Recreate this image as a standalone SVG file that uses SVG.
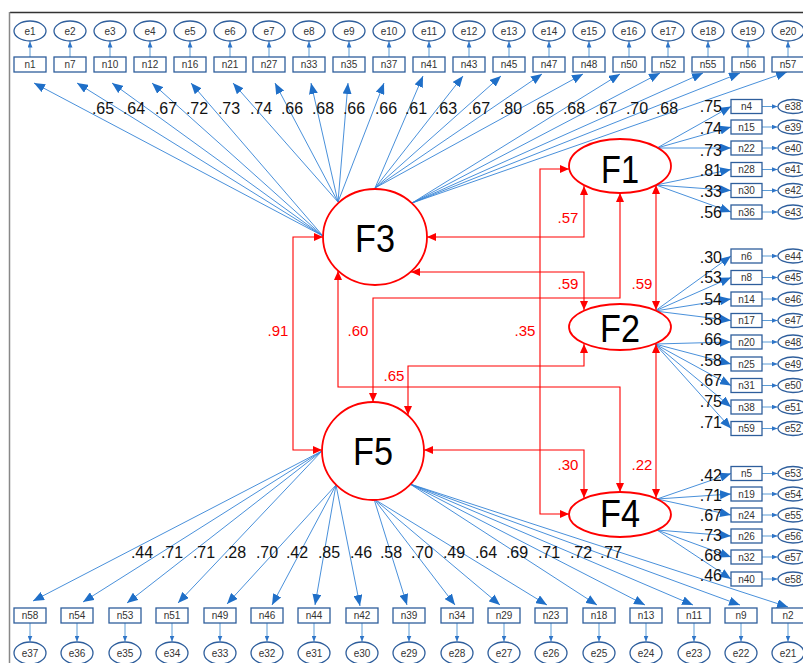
<svg xmlns="http://www.w3.org/2000/svg" width="803" height="663" viewBox="0 0 803 663">
<style>
.box{fill:#fff;stroke:#2E5E9C;stroke-width:1.3}
.err{fill:#fff;stroke:#2E5E9C;stroke-width:1.3}
.lat{fill:#fff;stroke:#FF0000;stroke-width:1.8}
.ld line{stroke:#3483D6;stroke-width:0.9;marker-end:url(#ab)}
.ea line{stroke:#5B9BD5;stroke-width:1;marker-end:url(#as)}
.cv{stroke:#FF0000;stroke-width:1.1;fill:none;marker-start:url(#r);marker-end:url(#r)}
text{font-family:"Liberation Sans",Arial,sans-serif}
.t{font-size:10px;fill:#333;text-anchor:middle}
.num{font-size:16px;fill:#111;text-anchor:middle}
.rnum{font-size:16px;fill:#111;text-anchor:end}
.red{font-size:15px;fill:#FF0000;text-anchor:middle}
.big{font-size:38px;fill:#000;text-anchor:middle}
</style>
<defs>
<marker id="ab" viewBox="0 0 11 9" refX="11" refY="4.5" markerWidth="11" markerHeight="9" markerUnits="userSpaceOnUse" orient="auto"><path d="M0,0L11,4.5L0,9z" fill="#1F6FC8"/></marker>
<marker id="as" viewBox="0 0 6 5" refX="6" refY="2.5" markerWidth="6" markerHeight="5" markerUnits="userSpaceOnUse" orient="auto"><path d="M0,0L6,2.5L0,5z" fill="#2E75C8"/></marker>
<marker id="r" viewBox="0 0 9 8" refX="9" refY="4" markerWidth="9" markerHeight="8" markerUnits="userSpaceOnUse" orient="auto-start-reverse"><path d="M0,0L9,4L0,8z" fill="#FF0000"/></marker>
</defs>
<rect width="803" height="663" fill="#fff"/>
<g id="frame">
<line x1="10" y1="12.5" x2="803" y2="12.5" stroke="#333" stroke-width="1.5"/>
<line x1="9.5" y1="12" x2="9.5" y2="663" stroke="#888" stroke-width="1.5"/>
</g>
<g id="connectors">
<g class="ld">
<line x1="323" y1="236" x2="34" y2="83"/><line x1="323" y1="236" x2="77" y2="83"/><line x1="323" y1="236" x2="112" y2="83"/><line x1="323" y1="236" x2="152" y2="83"/><line x1="323" y1="236" x2="191" y2="83"/>
<line x1="338" y1="202" x2="233" y2="83"/><line x1="338" y1="202" x2="275" y2="83"/><line x1="338" y1="202" x2="311" y2="83"/><line x1="338" y1="202" x2="348" y2="83"/><line x1="338" y1="202" x2="384" y2="83"/>
<line x1="375" y1="188" x2="423" y2="76"/><line x1="375" y1="188" x2="463" y2="76"/><line x1="375" y1="188" x2="501" y2="76"/><line x1="375" y1="188" x2="542" y2="74"/><line x1="375" y1="188" x2="583" y2="74"/>
<line x1="412" y1="203" x2="620" y2="74"/><line x1="412" y1="203" x2="660" y2="73"/><line x1="412" y1="203" x2="703" y2="73"/><line x1="412" y1="203" x2="740" y2="73"/><line x1="412" y1="203" x2="787" y2="72"/>
<line x1="322" y1="451" x2="33" y2="601"/><line x1="322" y1="451" x2="83" y2="602"/><line x1="322" y1="451" x2="127" y2="603"/><line x1="322" y1="451" x2="178" y2="603"/>
<line x1="336" y1="485" x2="227" y2="604"/><line x1="336" y1="485" x2="272" y2="605"/><line x1="336" y1="485" x2="315" y2="605"/><line x1="336" y1="485" x2="360" y2="606"/>
<line x1="374" y1="499" x2="407" y2="605"/><line x1="374" y1="499" x2="455" y2="605"/><line x1="374" y1="499" x2="500" y2="605"/><line x1="374" y1="499" x2="547" y2="605"/>
<line x1="410" y1="484" x2="597" y2="605"/><line x1="410" y1="484" x2="645" y2="605"/><line x1="410" y1="484" x2="693" y2="605"/><line x1="410" y1="484" x2="740" y2="605"/><line x1="410" y1="484" x2="788" y2="607"/>
<line x1="657" y1="148" x2="731" y2="106.5"/><line x1="657" y1="148" x2="731" y2="127"/><line x1="657" y1="148" x2="731" y2="148"/>
<line x1="656" y1="185" x2="731" y2="169.5"/><line x1="656" y1="185" x2="731" y2="190.5"/><line x1="656" y1="185" x2="731" y2="212"/>
<line x1="655" y1="311" x2="731" y2="256"/><line x1="655" y1="311" x2="731" y2="277.5"/><line x1="655" y1="311" x2="731" y2="299"/><line x1="655" y1="311" x2="731" y2="320.5"/>
<line x1="655" y1="344" x2="731" y2="342"/><line x1="655" y1="344" x2="731" y2="364"/><line x1="655" y1="344" x2="731" y2="385.5"/><line x1="655" y1="344" x2="731" y2="407"/><line x1="655" y1="344" x2="731" y2="428.5"/>
<line x1="657" y1="499" x2="731" y2="473.5"/><line x1="657" y1="499" x2="731" y2="494"/><line x1="657" y1="499" x2="731" y2="515"/>
<line x1="657" y1="530" x2="731" y2="536"/><line x1="657" y1="530" x2="731" y2="557"/><line x1="657" y1="530" x2="731" y2="579"/>
</g>
<g class="ea">
<line x1="30" y1="57" x2="30" y2="41.5"/><line x1="70" y1="57" x2="70" y2="41.5"/><line x1="110" y1="57" x2="110" y2="41.5"/><line x1="150" y1="57" x2="150" y2="41.5"/><line x1="190" y1="57" x2="190" y2="41.5"/><line x1="230" y1="57" x2="230" y2="41.5"/><line x1="269" y1="57" x2="269" y2="41.5"/><line x1="309" y1="57" x2="309" y2="41.5"/><line x1="349" y1="57" x2="349" y2="41.5"/><line x1="389" y1="57" x2="389" y2="41.5"/><line x1="429" y1="57" x2="429" y2="41.5"/><line x1="469" y1="57" x2="469" y2="41.5"/><line x1="509" y1="57" x2="509" y2="41.5"/><line x1="549" y1="57" x2="549" y2="41.5"/><line x1="589" y1="57" x2="589" y2="41.5"/><line x1="629" y1="57" x2="629" y2="41.5"/><line x1="668" y1="57" x2="668" y2="41.5"/><line x1="708" y1="57" x2="708" y2="41.5"/><line x1="748" y1="57" x2="748" y2="41.5"/><line x1="788" y1="57" x2="788" y2="41.5"/>
<line x1="30" y1="623" x2="30" y2="641.5"/><line x1="77" y1="623" x2="77" y2="641.5"/><line x1="125" y1="623" x2="125" y2="641.5"/><line x1="172" y1="623" x2="172" y2="641.5"/><line x1="220" y1="623" x2="220" y2="641.5"/><line x1="267" y1="623" x2="267" y2="641.5"/><line x1="314" y1="623" x2="314" y2="641.5"/><line x1="362" y1="623" x2="362" y2="641.5"/><line x1="409" y1="623" x2="409" y2="641.5"/><line x1="457" y1="623" x2="457" y2="641.5"/><line x1="504" y1="623" x2="504" y2="641.5"/><line x1="551" y1="623" x2="551" y2="641.5"/><line x1="599" y1="623" x2="599" y2="641.5"/><line x1="646" y1="623" x2="646" y2="641.5"/><line x1="694" y1="623" x2="694" y2="641.5"/><line x1="741" y1="623" x2="741" y2="641.5"/><line x1="788" y1="623" x2="788" y2="641.5"/>
<line x1="762" y1="106.5" x2="777.5" y2="106.5"/><line x1="762" y1="127" x2="777.5" y2="127"/><line x1="762" y1="148" x2="777.5" y2="148"/><line x1="762" y1="169.5" x2="777.5" y2="169.5"/><line x1="762" y1="190.5" x2="777.5" y2="190.5"/><line x1="762" y1="212" x2="777.5" y2="212"/>
<line x1="762" y1="256" x2="777.5" y2="256"/><line x1="762" y1="277.5" x2="777.5" y2="277.5"/><line x1="762" y1="299" x2="777.5" y2="299"/><line x1="762" y1="320.5" x2="777.5" y2="320.5"/><line x1="762" y1="342" x2="777.5" y2="342"/><line x1="762" y1="364" x2="777.5" y2="364"/><line x1="762" y1="385.5" x2="777.5" y2="385.5"/><line x1="762" y1="407" x2="777.5" y2="407"/><line x1="762" y1="428.5" x2="777.5" y2="428.5"/>
<line x1="762" y1="473.5" x2="777.5" y2="473.5"/><line x1="762" y1="494" x2="777.5" y2="494"/><line x1="762" y1="515" x2="777.5" y2="515"/><line x1="762" y1="536" x2="777.5" y2="536"/><line x1="762" y1="557" x2="777.5" y2="557"/><line x1="762" y1="579" x2="777.5" y2="579"/>
</g>
<path class="cv" d="M323,237H293V450H322"/>
<path class="cv" d="M427,237H584V186"/>
<path class="cv" d="M411,272H584V310"/>
<path class="cv" d="M373,402V298H620V193"/>
<path class="cv" d="M656,185V310"/>
<path class="cv" d="M408,415V366H584V344"/>
<path class="cv" d="M338,271V387H620V492"/>
<path class="cv" d="M424,450H584V498"/>
<path class="cv" d="M656,344V498"/>
<path class="cv" d="M569,169H540V514H569"/>
</g>
<g id="loadings-text">
<text class="num" x="103" y="113.5">.65</text><text class="num" x="134" y="113.5">.64</text><text class="num" x="166" y="113.5">.67</text><text class="num" x="197" y="113.5">.72</text><text class="num" x="229" y="113.5">.73</text><text class="num" x="261" y="113.5">.74</text><text class="num" x="292" y="113.5">.66</text><text class="num" x="323" y="113.5">.68</text><text class="num" x="354" y="113.5">.66</text><text class="num" x="386" y="113.5">.66</text><text class="num" x="416" y="113.5">.61</text><text class="num" x="446" y="113.5">.63</text><text class="num" x="479" y="113.5">.67</text><text class="num" x="511" y="113.5">.80</text><text class="num" x="543" y="113.5">.65</text><text class="num" x="574" y="113.5">.68</text><text class="num" x="606" y="113.5">.67</text><text class="num" x="637" y="113.5">.70</text><text class="num" x="667" y="113.5">.68</text>
<text class="num" x="142" y="558">.44</text><text class="num" x="172" y="558">.71</text><text class="num" x="204" y="558">.71</text><text class="num" x="235" y="558">.28</text><text class="num" x="267" y="558">.70</text><text class="num" x="297" y="558">.42</text><text class="num" x="329" y="558">.85</text><text class="num" x="361" y="558">.46</text><text class="num" x="391" y="558">.58</text><text class="num" x="422" y="558">.70</text><text class="num" x="454" y="558">.49</text><text class="num" x="486" y="558">.64</text><text class="num" x="517" y="558">.69</text><text class="num" x="549" y="558">.71</text><text class="num" x="581" y="558">.72</text><text class="num" x="611" y="558">.77</text>
<text class="rnum" x="722" y="112">.75</text><text class="rnum" x="722" y="133.5">.74</text><text class="rnum" x="722" y="155.5">.73</text><text class="rnum" x="722" y="175.5">.81</text><text class="rnum" x="722" y="197">.33</text><text class="rnum" x="722" y="218">.56</text>
<text class="rnum" x="722" y="262.5">.30</text><text class="rnum" x="722" y="283">.53</text><text class="rnum" x="722" y="304.5">.54</text><text class="rnum" x="722" y="324.5">.58</text><text class="rnum" x="722" y="344.5">.66</text><text class="rnum" x="722" y="365.5">.58</text><text class="rnum" x="722" y="385.5">.67</text><text class="rnum" x="722" y="406.5">.75</text><text class="rnum" x="722" y="427.5">.71</text>
<text class="rnum" x="722" y="480.5">.42</text><text class="rnum" x="722" y="501">.71</text><text class="rnum" x="722" y="520.5">.67</text><text class="rnum" x="722" y="540.5">.73</text><text class="rnum" x="722" y="561">.68</text><text class="rnum" x="722" y="581">.46</text>
<text class="red" x="278" y="336">.91</text><text class="red" x="358" y="336">.60</text><text class="red" x="525" y="336">.35</text><text class="red" x="394" y="381">.65</text><text class="red" x="568" y="223">.57</text><text class="red" x="568" y="289">.59</text><text class="red" x="642" y="289">.59</text><text class="red" x="568" y="470">.30</text><text class="red" x="642" y="470">.22</text>
</g>
<g id="F3"><ellipse class="lat" cx="375" cy="237" rx="52" ry="48"/><text class="big" x="375" y="252" textLength="40" lengthAdjust="spacingAndGlyphs">F3</text></g>
<g id="F5"><ellipse class="lat" cx="373" cy="451" rx="51" ry="49"/><text class="big" x="373" y="465" textLength="40" lengthAdjust="spacingAndGlyphs">F5</text></g>
<g id="F1"><ellipse class="lat" cx="620" cy="166" rx="51" ry="27"/><text class="big" x="620" y="183" textLength="38" lengthAdjust="spacingAndGlyphs">F1</text></g>
<g id="F2"><ellipse class="lat" cx="620" cy="327" rx="51" ry="23"/><text class="big" x="620" y="342" textLength="40" lengthAdjust="spacingAndGlyphs">F2</text></g>
<g id="F4"><ellipse class="lat" cx="620" cy="514.5" rx="51" ry="22.5"/><text class="big" x="620" y="527" textLength="40" lengthAdjust="spacingAndGlyphs">F4</text></g>
<g id="top-items">
<g id="n1"><rect class="box" x="14" y="57" width="32" height="15"/><text class="t" x="30" y="68">n1</text></g>
<g id="n7"><rect class="box" x="54" y="57" width="32" height="15"/><text class="t" x="70" y="68">n7</text></g>
<g id="n10"><rect class="box" x="94" y="57" width="32" height="15"/><text class="t" x="110" y="68">n10</text></g>
<g id="n12"><rect class="box" x="134" y="57" width="32" height="15"/><text class="t" x="150" y="68">n12</text></g>
<g id="n16"><rect class="box" x="174" y="57" width="32" height="15"/><text class="t" x="190" y="68">n16</text></g>
<g id="n21"><rect class="box" x="214" y="57" width="32" height="15"/><text class="t" x="230" y="68">n21</text></g>
<g id="n27"><rect class="box" x="253" y="57" width="32" height="15"/><text class="t" x="269" y="68">n27</text></g>
<g id="n33"><rect class="box" x="293" y="57" width="32" height="15"/><text class="t" x="309" y="68">n33</text></g>
<g id="n35"><rect class="box" x="333" y="57" width="32" height="15"/><text class="t" x="349" y="68">n35</text></g>
<g id="n37"><rect class="box" x="373" y="57" width="32" height="15"/><text class="t" x="389" y="68">n37</text></g>
<g id="n41"><rect class="box" x="413" y="57" width="32" height="15"/><text class="t" x="429" y="68">n41</text></g>
<g id="n43"><rect class="box" x="453" y="57" width="32" height="15"/><text class="t" x="469" y="68">n43</text></g>
<g id="n45"><rect class="box" x="493" y="57" width="32" height="15"/><text class="t" x="509" y="68">n45</text></g>
<g id="n47"><rect class="box" x="533" y="57" width="32" height="15"/><text class="t" x="549" y="68">n47</text></g>
<g id="n48"><rect class="box" x="573" y="57" width="32" height="15"/><text class="t" x="589" y="68">n48</text></g>
<g id="n50"><rect class="box" x="613" y="57" width="32" height="15"/><text class="t" x="629" y="68">n50</text></g>
<g id="n52"><rect class="box" x="652" y="57" width="32" height="15"/><text class="t" x="668" y="68">n52</text></g>
<g id="n55"><rect class="box" x="692" y="57" width="32" height="15"/><text class="t" x="708" y="68">n55</text></g>
<g id="n56"><rect class="box" x="732" y="57" width="32" height="15"/><text class="t" x="748" y="68">n56</text></g>
<g id="n57"><rect class="box" x="772" y="57" width="32" height="15"/><text class="t" x="788" y="68">n57</text></g>
<g id="e1"><ellipse class="err" cx="30" cy="31" rx="16" ry="10"/><text class="t" x="30" y="34.5">e1</text></g>
<g id="e2"><ellipse class="err" cx="70" cy="31" rx="16" ry="10"/><text class="t" x="70" y="34.5">e2</text></g>
<g id="e3"><ellipse class="err" cx="110" cy="31" rx="16" ry="10"/><text class="t" x="110" y="34.5">e3</text></g>
<g id="e4"><ellipse class="err" cx="150" cy="31" rx="16" ry="10"/><text class="t" x="150" y="34.5">e4</text></g>
<g id="e5"><ellipse class="err" cx="190" cy="31" rx="16" ry="10"/><text class="t" x="190" y="34.5">e5</text></g>
<g id="e6"><ellipse class="err" cx="230" cy="31" rx="16" ry="10"/><text class="t" x="230" y="34.5">e6</text></g>
<g id="e7"><ellipse class="err" cx="269" cy="31" rx="16" ry="10"/><text class="t" x="269" y="34.5">e7</text></g>
<g id="e8"><ellipse class="err" cx="309" cy="31" rx="16" ry="10"/><text class="t" x="309" y="34.5">e8</text></g>
<g id="e9"><ellipse class="err" cx="349" cy="31" rx="16" ry="10"/><text class="t" x="349" y="34.5">e9</text></g>
<g id="e10"><ellipse class="err" cx="389" cy="31" rx="16" ry="10"/><text class="t" x="389" y="34.5">e10</text></g>
<g id="e11"><ellipse class="err" cx="429" cy="31" rx="16" ry="10"/><text class="t" x="429" y="34.5">e11</text></g>
<g id="e12"><ellipse class="err" cx="469" cy="31" rx="16" ry="10"/><text class="t" x="469" y="34.5">e12</text></g>
<g id="e13"><ellipse class="err" cx="509" cy="31" rx="16" ry="10"/><text class="t" x="509" y="34.5">e13</text></g>
<g id="e14"><ellipse class="err" cx="549" cy="31" rx="16" ry="10"/><text class="t" x="549" y="34.5">e14</text></g>
<g id="e15"><ellipse class="err" cx="589" cy="31" rx="16" ry="10"/><text class="t" x="589" y="34.5">e15</text></g>
<g id="e16"><ellipse class="err" cx="629" cy="31" rx="16" ry="10"/><text class="t" x="629" y="34.5">e16</text></g>
<g id="e17"><ellipse class="err" cx="668" cy="31" rx="16" ry="10"/><text class="t" x="668" y="34.5">e17</text></g>
<g id="e18"><ellipse class="err" cx="708" cy="31" rx="16" ry="10"/><text class="t" x="708" y="34.5">e18</text></g>
<g id="e19"><ellipse class="err" cx="748" cy="31" rx="16" ry="10"/><text class="t" x="748" y="34.5">e19</text></g>
<g id="e20"><ellipse class="err" cx="788" cy="31" rx="16" ry="10"/><text class="t" x="788" y="34.5">e20</text></g>
</g>
<g id="bottom-items">
<g id="n58"><rect class="box" x="14" y="608" width="32" height="15"/><text class="t" x="30" y="619">n58</text></g>
<g id="n54"><rect class="box" x="61" y="608" width="32" height="15"/><text class="t" x="77" y="619">n54</text></g>
<g id="n53"><rect class="box" x="109" y="608" width="32" height="15"/><text class="t" x="125" y="619">n53</text></g>
<g id="n51"><rect class="box" x="156" y="608" width="32" height="15"/><text class="t" x="172" y="619">n51</text></g>
<g id="n49"><rect class="box" x="204" y="608" width="32" height="15"/><text class="t" x="220" y="619">n49</text></g>
<g id="n46"><rect class="box" x="251" y="608" width="32" height="15"/><text class="t" x="267" y="619">n46</text></g>
<g id="n44"><rect class="box" x="298" y="608" width="32" height="15"/><text class="t" x="314" y="619">n44</text></g>
<g id="n42"><rect class="box" x="346" y="608" width="32" height="15"/><text class="t" x="362" y="619">n42</text></g>
<g id="n39"><rect class="box" x="393" y="608" width="32" height="15"/><text class="t" x="409" y="619">n39</text></g>
<g id="n34"><rect class="box" x="441" y="608" width="32" height="15"/><text class="t" x="457" y="619">n34</text></g>
<g id="n29"><rect class="box" x="488" y="608" width="32" height="15"/><text class="t" x="504" y="619">n29</text></g>
<g id="n23"><rect class="box" x="535" y="608" width="32" height="15"/><text class="t" x="551" y="619">n23</text></g>
<g id="n18"><rect class="box" x="583" y="608" width="32" height="15"/><text class="t" x="599" y="619">n18</text></g>
<g id="n13"><rect class="box" x="630" y="608" width="32" height="15"/><text class="t" x="646" y="619">n13</text></g>
<g id="n11"><rect class="box" x="678" y="608" width="32" height="15"/><text class="t" x="694" y="619">n11</text></g>
<g id="n9"><rect class="box" x="725" y="608" width="32" height="15"/><text class="t" x="741" y="619">n9</text></g>
<g id="n2"><rect class="box" x="772" y="608" width="32" height="15"/><text class="t" x="788" y="619">n2</text></g>
<g id="e37"><ellipse class="err" cx="30" cy="653" rx="16" ry="11"/><text class="t" x="30" y="656.5">e37</text></g>
<g id="e36"><ellipse class="err" cx="77" cy="653" rx="16" ry="11"/><text class="t" x="77" y="656.5">e36</text></g>
<g id="e35"><ellipse class="err" cx="125" cy="653" rx="16" ry="11"/><text class="t" x="125" y="656.5">e35</text></g>
<g id="e34"><ellipse class="err" cx="172" cy="653" rx="16" ry="11"/><text class="t" x="172" y="656.5">e34</text></g>
<g id="e33"><ellipse class="err" cx="220" cy="653" rx="16" ry="11"/><text class="t" x="220" y="656.5">e33</text></g>
<g id="e32"><ellipse class="err" cx="267" cy="653" rx="16" ry="11"/><text class="t" x="267" y="656.5">e32</text></g>
<g id="e31"><ellipse class="err" cx="314" cy="653" rx="16" ry="11"/><text class="t" x="314" y="656.5">e31</text></g>
<g id="e30"><ellipse class="err" cx="362" cy="653" rx="16" ry="11"/><text class="t" x="362" y="656.5">e30</text></g>
<g id="e29"><ellipse class="err" cx="409" cy="653" rx="16" ry="11"/><text class="t" x="409" y="656.5">e29</text></g>
<g id="e28"><ellipse class="err" cx="457" cy="653" rx="16" ry="11"/><text class="t" x="457" y="656.5">e28</text></g>
<g id="e27"><ellipse class="err" cx="504" cy="653" rx="16" ry="11"/><text class="t" x="504" y="656.5">e27</text></g>
<g id="e26"><ellipse class="err" cx="551" cy="653" rx="16" ry="11"/><text class="t" x="551" y="656.5">e26</text></g>
<g id="e25"><ellipse class="err" cx="599" cy="653" rx="16" ry="11"/><text class="t" x="599" y="656.5">e25</text></g>
<g id="e24"><ellipse class="err" cx="646" cy="653" rx="16" ry="11"/><text class="t" x="646" y="656.5">e24</text></g>
<g id="e23"><ellipse class="err" cx="694" cy="653" rx="16" ry="11"/><text class="t" x="694" y="656.5">e23</text></g>
<g id="e22"><ellipse class="err" cx="741" cy="653" rx="16" ry="11"/><text class="t" x="741" y="656.5">e22</text></g>
<g id="e21"><ellipse class="err" cx="788" cy="653" rx="16" ry="11"/><text class="t" x="788" y="656.5">e21</text></g>
</g>
<g id="right-items">
<g id="n4"><rect class="box" x="731" y="99.5" width="31" height="14"/><text class="t" x="746.5" y="110">n4</text></g>
<g id="n15"><rect class="box" x="731" y="120" width="31" height="14"/><text class="t" x="746.5" y="130.5">n15</text></g>
<g id="n22"><rect class="box" x="731" y="141" width="31" height="14"/><text class="t" x="746.5" y="151.5">n22</text></g>
<g id="n28"><rect class="box" x="731" y="162.5" width="31" height="14"/><text class="t" x="746.5" y="173">n28</text></g>
<g id="n30"><rect class="box" x="731" y="183.5" width="31" height="14"/><text class="t" x="746.5" y="194">n30</text></g>
<g id="n36"><rect class="box" x="731" y="205" width="31" height="14"/><text class="t" x="746.5" y="215.5">n36</text></g>
<g id="n6"><rect class="box" x="731" y="249" width="31" height="14"/><text class="t" x="746.5" y="259.5">n6</text></g>
<g id="n8"><rect class="box" x="731" y="270.5" width="31" height="14"/><text class="t" x="746.5" y="281">n8</text></g>
<g id="n14"><rect class="box" x="731" y="292" width="31" height="14"/><text class="t" x="746.5" y="302.5">n14</text></g>
<g id="n17"><rect class="box" x="731" y="313.5" width="31" height="14"/><text class="t" x="746.5" y="324">n17</text></g>
<g id="n20"><rect class="box" x="731" y="335" width="31" height="14"/><text class="t" x="746.5" y="345.5">n20</text></g>
<g id="n25"><rect class="box" x="731" y="357" width="31" height="14"/><text class="t" x="746.5" y="367.5">n25</text></g>
<g id="n31"><rect class="box" x="731" y="378.5" width="31" height="14"/><text class="t" x="746.5" y="389">n31</text></g>
<g id="n38"><rect class="box" x="731" y="400" width="31" height="14"/><text class="t" x="746.5" y="410.5">n38</text></g>
<g id="n59"><rect class="box" x="731" y="421.5" width="31" height="14"/><text class="t" x="746.5" y="432">n59</text></g>
<g id="n5"><rect class="box" x="731" y="466.5" width="31" height="14"/><text class="t" x="746.5" y="477">n5</text></g>
<g id="n19"><rect class="box" x="731" y="487" width="31" height="14"/><text class="t" x="746.5" y="497.5">n19</text></g>
<g id="n24"><rect class="box" x="731" y="508" width="31" height="14"/><text class="t" x="746.5" y="518.5">n24</text></g>
<g id="n26"><rect class="box" x="731" y="529" width="31" height="14"/><text class="t" x="746.5" y="539.5">n26</text></g>
<g id="n32"><rect class="box" x="731" y="550" width="31" height="14"/><text class="t" x="746.5" y="560.5">n32</text></g>
<g id="n40"><rect class="box" x="731" y="572" width="31" height="14"/><text class="t" x="746.5" y="582.5">n40</text></g>
<g id="e38"><ellipse class="err" cx="793" cy="106.5" rx="15" ry="7"/><text class="t" x="793" y="110">e38</text></g>
<g id="e39"><ellipse class="err" cx="793" cy="127" rx="15" ry="7"/><text class="t" x="793" y="130.5">e39</text></g>
<g id="e40"><ellipse class="err" cx="793" cy="148" rx="15" ry="7"/><text class="t" x="793" y="151.5">e40</text></g>
<g id="e41"><ellipse class="err" cx="793" cy="169.5" rx="15" ry="7"/><text class="t" x="793" y="173">e41</text></g>
<g id="e42"><ellipse class="err" cx="793" cy="190.5" rx="15" ry="7"/><text class="t" x="793" y="194">e42</text></g>
<g id="e43"><ellipse class="err" cx="793" cy="212" rx="15" ry="7"/><text class="t" x="793" y="215.5">e43</text></g>
<g id="e44"><ellipse class="err" cx="793" cy="256" rx="15" ry="7"/><text class="t" x="793" y="259.5">e44</text></g>
<g id="e45"><ellipse class="err" cx="793" cy="277.5" rx="15" ry="7"/><text class="t" x="793" y="281">e45</text></g>
<g id="e46"><ellipse class="err" cx="793" cy="299" rx="15" ry="7"/><text class="t" x="793" y="302.5">e46</text></g>
<g id="e47"><ellipse class="err" cx="793" cy="320.5" rx="15" ry="7"/><text class="t" x="793" y="324">e47</text></g>
<g id="e48"><ellipse class="err" cx="793" cy="342" rx="15" ry="7"/><text class="t" x="793" y="345.5">e48</text></g>
<g id="e49"><ellipse class="err" cx="793" cy="364" rx="15" ry="7"/><text class="t" x="793" y="367.5">e49</text></g>
<g id="e50"><ellipse class="err" cx="793" cy="385.5" rx="15" ry="7"/><text class="t" x="793" y="389">e50</text></g>
<g id="e51"><ellipse class="err" cx="793" cy="407" rx="15" ry="7"/><text class="t" x="793" y="410.5">e51</text></g>
<g id="e52"><ellipse class="err" cx="793" cy="428.5" rx="15" ry="7"/><text class="t" x="793" y="432">e52</text></g>
<g id="e53"><ellipse class="err" cx="793" cy="473.5" rx="15" ry="7"/><text class="t" x="793" y="477">e53</text></g>
<g id="e54"><ellipse class="err" cx="793" cy="494" rx="15" ry="7"/><text class="t" x="793" y="497.5">e54</text></g>
<g id="e55"><ellipse class="err" cx="793" cy="515" rx="15" ry="7"/><text class="t" x="793" y="518.5">e55</text></g>
<g id="e56"><ellipse class="err" cx="793" cy="536" rx="15" ry="7"/><text class="t" x="793" y="539.5">e56</text></g>
<g id="e57"><ellipse class="err" cx="793" cy="557" rx="15" ry="7"/><text class="t" x="793" y="560.5">e57</text></g>
<g id="e58"><ellipse class="err" cx="793" cy="579" rx="15" ry="7"/><text class="t" x="793" y="582.5">e58</text></g>
</g>
</svg>
